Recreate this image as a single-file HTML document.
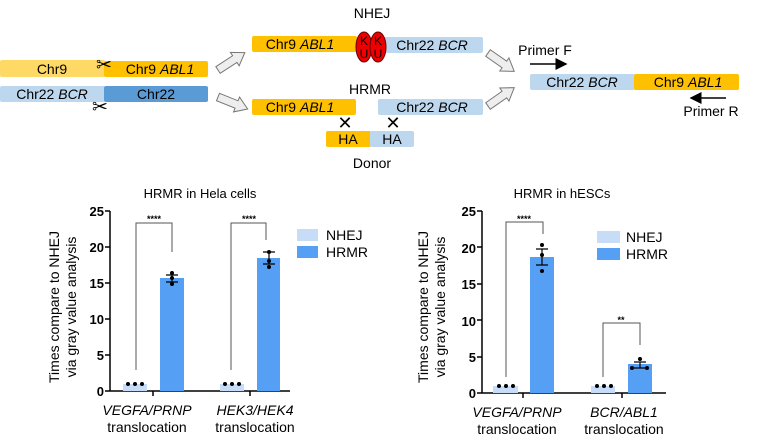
<!DOCTYPE html>
<html><head><meta charset="utf-8"><style>
html,body{margin:0;padding:0;background:#fff;}
svg{display:block;font-family:"Liberation Sans",Arial,sans-serif;}
</style></head><body>
<svg width="778" height="446" viewBox="0 0 778 446" xmlns="http://www.w3.org/2000/svg">
<defs>
<marker id="ah" markerWidth="8" markerHeight="8" refX="7" refY="4" orient="auto"><path d="M0,0 L8,4 L0,8 z" fill="#000"/></marker>
</defs>
<g font-size="14" text-anchor="middle" fill="#000">
<rect x="0" y="60" width="105" height="17" rx="2" fill="#ffd966"/>
<text x="52" y="74">Chr9</text>
<rect x="104" y="61" width="104" height="16" rx="2" fill="#ffc000"/>
<text x="160" y="74">Chr9 <tspan font-style="italic">ABL1</tspan></text>
<rect x="0" y="86" width="105" height="16" rx="2" fill="#bdd7ee"/>
<text x="52" y="99">Chr22 <tspan font-style="italic">BCR</tspan></text>
<rect x="104" y="86" width="104" height="16" rx="2" fill="#5b9bd5"/>
<text x="156" y="99">Chr22</text>
<text x="104" y="71" font-size="19">✂</text>
<text x="100" y="113" font-size="19">✂</text>
<g fill="#eee" stroke="#777" stroke-width="1">
<path d="M0,-4 L20,-4 L20,-8 L32,0 L20,8 L20,4 L0,4 z" transform="translate(218,70) rotate(-33)"/>
<path d="M0,-4 L20,-4 L20,-8 L32,0 L20,8 L20,4 L0,4 z" transform="translate(218,97) rotate(22)"/>
<path d="M0,-4 L20,-4 L20,-8 L32,0 L20,8 L20,4 L0,4 z" transform="translate(488,53) rotate(35)"/>
<path d="M0,-4 L20,-4 L20,-8 L32,0 L20,8 L20,4 L0,4 z" transform="translate(488,106) rotate(-35)"/>
</g>
<text x="372" y="18">NHEJ</text>
<rect x="252" y="36" width="105" height="16" rx="2" fill="#ffc000"/>
<text x="300" y="49">Chr9 <tspan font-style="italic">ABL1</tspan></text>
<rect x="378" y="37" width="105" height="16" rx="2" fill="#bdd7ee"/>
<text x="432" y="50">Chr22 <tspan font-style="italic">BCR</tspan></text>
<ellipse cx="364" cy="47" rx="8" ry="15" fill="#e00" stroke="#600"/>
<ellipse cx="378" cy="47" rx="8" ry="15" fill="#e00" stroke="#600"/>
<text x="364" y="45" font-size="12">K</text><text x="364" y="58" font-size="12">U</text>
<text x="378" y="45" font-size="12">K</text><text x="378" y="58" font-size="12">U</text>
<text x="370" y="94">HRMR</text>
<rect x="252" y="99" width="104" height="16" rx="2" fill="#ffc000"/>
<text x="300" y="112">Chr9 <tspan font-style="italic">ABL1</tspan></text>
<rect x="378" y="99" width="105" height="16" rx="2" fill="#bdd7ee"/>
<text x="432" y="112">Chr22 <tspan font-style="italic">BCR</tspan></text>
<text x="345" y="129" font-size="18">✕</text>
<text x="393" y="129" font-size="18">✕</text>
<rect x="326" y="131" width="45" height="16" rx="2" fill="#ffc000"/>
<text x="348" y="144">HA</text>
<rect x="370" y="131" width="44" height="16" rx="2" fill="#bdd7ee"/>
<text x="392" y="144">HA</text>
<text x="372" y="168">Donor</text>
<text x="545" y="55">Primer F</text>
<line x1="530" y1="64" x2="566" y2="64" stroke="#000" stroke-width="1.5" marker-end="url(#ah)"/>
<rect x="530" y="74" width="105" height="16" rx="2" fill="#bdd7ee"/>
<text x="582" y="87">Chr22 <tspan font-style="italic">BCR</tspan></text>
<rect x="634" y="74" width="105" height="16" rx="2" fill="#ffc000"/>
<text x="688" y="87">Chr9 <tspan font-style="italic">ABL1</tspan></text>
<line x1="726" y1="98" x2="691" y2="98" stroke="#000" stroke-width="1.5" marker-end="url(#ah)"/>
<text x="711" y="116">Primer R</text>
</g>

<g font-size="14">
<text x="200" y="198" text-anchor="middle" font-size="13">HRMR in Hela cells</text>
<g font-weight="bold" text-anchor="end" font-size="13">
<text x="104" y="216">25</text><text x="104" y="252">20</text><text x="104" y="288">15</text>
<text x="104" y="324">10</text><text x="104" y="360">5</text><text x="104" y="396">0</text>
</g>
<g stroke="#000" stroke-width="1.5">
<line x1="110" y1="211" x2="110" y2="391"/><line x1="110" y1="391" x2="290" y2="391"/>
<line x1="105" y1="211" x2="110" y2="211"/><line x1="105" y1="247" x2="110" y2="247"/><line x1="105" y1="283" x2="110" y2="283"/>
<line x1="105" y1="319" x2="110" y2="319"/><line x1="105" y1="355" x2="110" y2="355"/><line x1="105" y1="391" x2="110" y2="391"/>
<line x1="153" y1="391" x2="153" y2="396"/><line x1="250" y1="391" x2="250" y2="396"/>
</g>
<rect x="123" y="384" width="24" height="7" fill="#c6dcf7"/>
<rect x="160" y="278" width="24" height="113" fill="#559ff5"/>
<rect x="220" y="384" width="24" height="7" fill="#c6dcf7"/>
<rect x="257" y="258" width="23" height="133" fill="#559ff5"/>
<g fill="#000"><circle cx="128" cy="384" r="2"/><circle cx="135" cy="384" r="2"/><circle cx="142" cy="384" r="2"/>
<circle cx="225" cy="384" r="2"/><circle cx="232" cy="384" r="2"/><circle cx="239" cy="384" r="2"/>
<circle cx="172" cy="273" r="2"/><circle cx="172" cy="278" r="2"/><circle cx="172" cy="284" r="2"/>
<circle cx="269" cy="252" r="2"/><circle cx="269" cy="261" r="2"/><circle cx="269" cy="267" r="2"/></g>
<g stroke="#000" stroke-width="1.2" fill="none">
<path d="M166,275 H178 M172,275 V282 M166,282 H178"/>
<path d="M263,252 H275 M269,252 V264 M263,264 H275"/>
</g>
<g stroke="#555" stroke-width="1" fill="none">
<path d="M136,370 V223 H172 V252"/><path d="M231,370 V223 H266 V240"/>
</g>
<text x="154" y="222" text-anchor="middle" font-size="9" font-weight="bold">****</text>
<text x="249" y="222" text-anchor="middle" font-size="9" font-weight="bold">****</text>
<text text-anchor="middle" transform="translate(59,307) rotate(-90)">Times compare to NHEJ</text>
<text text-anchor="middle" transform="translate(76,307) rotate(-90)">via gray value analysis</text>
<text x="147" y="415" text-anchor="middle" font-style="italic">VEGFA/PRNP</text>
<text x="147" y="432" text-anchor="middle">translocation</text>
<text x="255" y="415" text-anchor="middle" font-style="italic">HEK3/HEK4</text>
<text x="255" y="432" text-anchor="middle">translocation</text>
<rect x="297" y="229" width="21" height="12" fill="#c6dcf7"/><text x="326" y="240">NHEJ</text>
<rect x="297" y="246" width="21" height="12" fill="#559ff5"/><text x="326" y="257">HRMR</text>
</g>

<g font-size="14">
<text x="562" y="198" text-anchor="middle" font-size="13">HRMR in hESCs</text>
<g font-weight="bold" text-anchor="end" font-size="13">
<text x="476" y="216">25</text><text x="476" y="253">20</text><text x="476" y="289">15</text>
<text x="476" y="326">10</text><text x="476" y="362">5</text><text x="476" y="398">0</text>
</g>
<g stroke="#000" stroke-width="1.5">
<line x1="482" y1="211" x2="482" y2="393"/><line x1="482" y1="393" x2="666" y2="393"/>
<line x1="477" y1="211" x2="482" y2="211"/><line x1="477" y1="247" x2="482" y2="247"/><line x1="477" y1="284" x2="482" y2="284"/>
<line x1="477" y1="320" x2="482" y2="320"/><line x1="477" y1="357" x2="482" y2="357"/><line x1="477" y1="393" x2="482" y2="393"/>
<line x1="523" y1="393" x2="523" y2="398"/><line x1="622" y1="393" x2="622" y2="398"/>
</g>
<rect x="493" y="386" width="25" height="7" fill="#c6dcf7"/>
<rect x="530" y="257" width="24" height="136" fill="#559ff5"/>
<rect x="591" y="386" width="24" height="7" fill="#c6dcf7"/>
<rect x="628" y="364" width="24" height="29" fill="#559ff5"/>
<g fill="#000"><circle cx="499" cy="386" r="2"/><circle cx="506" cy="386" r="2"/><circle cx="513" cy="386" r="2"/>
<circle cx="597" cy="386" r="2"/><circle cx="604" cy="386" r="2"/><circle cx="611" cy="386" r="2"/>
<circle cx="542" cy="245" r="2"/><circle cx="542" cy="255" r="2"/><circle cx="542" cy="271" r="2"/>
<circle cx="632" cy="368" r="2"/><circle cx="640" cy="359" r="2"/><circle cx="647" cy="368" r="2"/></g>
<g stroke="#000" stroke-width="1.2" fill="none">
<path d="M536,249 H548 M542,249 V265 M536,265 H548"/>
<path d="M634,362 H646 M640,362 V368 M634,368 H646"/>
</g>
<g stroke="#555" stroke-width="1" fill="none">
<path d="M506,377 V222 H543 V234"/><path d="M603,377 V323 H640 V345"/>
</g>
<text x="524" y="222" text-anchor="middle" font-size="9" font-weight="bold">****</text>
<text x="621" y="323" text-anchor="middle" font-size="9" font-weight="bold">**</text>
<text text-anchor="middle" transform="translate(428,307) rotate(-90)">Times compare to NHEJ</text>
<text text-anchor="middle" transform="translate(445,307) rotate(-90)">via gray value analysis</text>
<text x="517" y="417" text-anchor="middle" font-style="italic">VEGFA/PRNP</text>
<text x="517" y="434" text-anchor="middle">translocation</text>
<text x="624" y="417" text-anchor="middle" font-style="italic">BCR/ABL1</text>
<text x="624" y="434" text-anchor="middle">translocation</text>
<rect x="597" y="231" width="23" height="12" fill="#c6dcf7"/><text x="626" y="242">NHEJ</text>
<rect x="597" y="248" width="23" height="12" fill="#559ff5"/><text x="626" y="259">HRMR</text>
</g>
</svg>
</body></html>
